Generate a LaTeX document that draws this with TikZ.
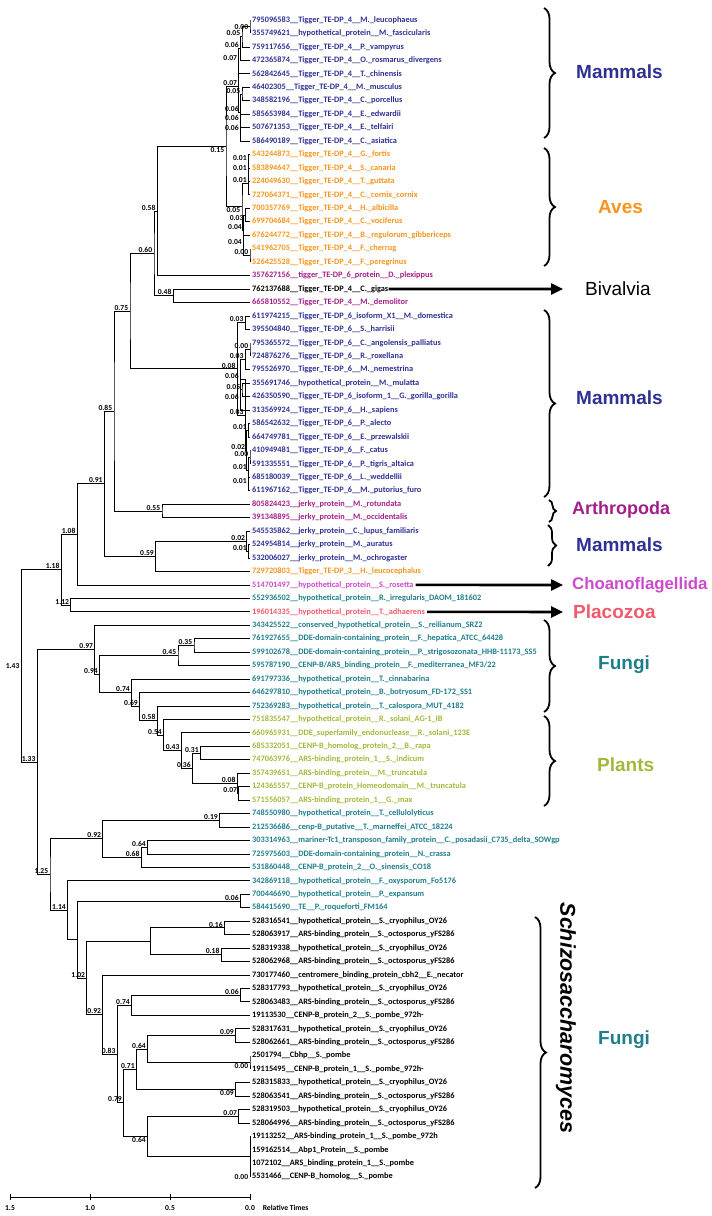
\documentclass[tikz,border=0pt]{standalone}
\usepackage{fontspec}
\setmainfont{Carlito}
\newfontfamily\grpfont{Liberation Sans}
\usetikzlibrary{calc, arrows.meta, decorations.pathreplacing}

\definecolor{mamblue}{HTML}{2E3192}
\definecolor{avesorange}{HTML}{F7941D}
\definecolor{arthpurple}{HTML}{A21F8A}
\definecolor{choanopink}{HTML}{CC4ACB}
\definecolor{placored}{HTML}{F05A6B}
\definecolor{fungiteal}{HTML}{1F7E8C}
\definecolor{plantgreen}{HTML}{A2B83C}

\catcode`\_=12

% leaves: first index, colour, list of labels
\newcommand\leaves[3]{%
  \foreach \txt [count=\i from #1] in {#3} {%
    \coordinate (l\i) at (250,{20+13.45*(\i-1)});
    \node[leaf, text=#2] (t\i) at ([xshift=2pt]l\i) {\txt};}}

% clade: [label anchor]{name}{age}{child a}{child b}
\newcommand\clade[5][south east]{%
  \path let \p1=($(#4)!.5!(#5)$) in coordinate (#2) at ({250pt-160pt*#3},\y1);
  \draw[branch] (#4) -| (#2) |- (#5);
  \node[age, anchor=#1] at ([xshift=-1pt]#2) {#3};}

% join without a printed age
\newcommand\knot[4]{%
  \path let \p1=($(#3)!.5!(#4)$) in coordinate (#1) at ({250pt-160pt*#2},\y1);
  \draw[branch] (#3) -| (#1) |- (#4);}

\begin{document}
\begin{tikzpicture}[x=1pt, y=-1pt,
    leaf/.style={anchor=west, inner sep=0pt, font=\fontsize{8.3}{9}\selectfont\bfseries},
    age/.style={inner sep=0.6pt, font=\fontsize{7.6}{8}\selectfont\bfseries},
    branch/.style={line width=0.8pt},
    group/.style={anchor=west, inner sep=0pt, font=\grpfont\bfseries\fontsize{19}{22}\selectfont},
    brace/.style={decorate, decoration={brace, amplitude=11pt}, line width=1.8pt},
    pointer/.style={line width=2.6pt, -{Triangle[length=12pt, width=11pt]}}
  ]
\useasboundingbox (0,0) rectangle (712,1216);

% leaf labels
\leaves{1}{mamblue}{795096583__Tigger_TE-DP_4__M._leucophaeus,
  355749621__hypothetical_protein__M._fascicularis,
  759117656__Tigger_TE-DP_4__P._vampyrus,
  472365874__Tigger_TE-DP_4__O._rosmarus_divergens,
  562842645__Tigger_TE-DP_4__T._chinensis,
  46402305__Tigger_TE-DP_4__M._musculus,
  348582196__Tigger_TE-DP_4__C._porcellus,
  585653984__Tigger_TE-DP_4__E._edwardii,
  507671353__Tigger_TE-DP_4__E._telfairi,
  586490189__Tigger_TE-DP_4__C._asiatica}
\leaves{11}{avesorange}{543244873__Tigger_TE-DP_4__G._fortis,
  583894647__Tigger_TE-DP_4__S._canaria,
  224049630__Tigger_TE-DP_4__T._guttata,
  727064371__Tigger_TE-DP_4__C._cornix_cornix,
  700357769__Tigger_TE-DP_4__H._albicilla,
  699704684__Tigger_TE-DP_4__C._vociferus,
  676244772__Tigger_TE-DP_4__B._regulorum_gibbericeps,
  541962705__Tigger_TE-DP_4__F._cherrug,
  526425528__Tigger_TE-DP_4__F._peregrinus}
\leaves{20}{arthpurple}{357627156__tigger_TE-DP_6_protein__D._plexippus}
\leaves{21}{black}{762137688__Tigger_TE-DP_4__C._gigas}
\leaves{22}{arthpurple}{665810552__Tigger_TE-DP_4__M._demolitor}
\leaves{23}{mamblue}{611974215__Tigger_TE-DP_6_isoform_X1__M._domestica,
  395504840__Tigger_TE-DP_6__S._harrisii,
  795365572__Tigger_TE-DP_6__C._angolensis_palliatus,
  724876276__Tigger_TE-DP_6__R._roxellana,
  795526970__Tigger_TE-DP_6__M._nemestrina,
  355691746__hypothetical_protein__M._mulatta,
  426350590__Tigger_TE-DP_6_isoform_1__G._gorilla_gorilla,
  313569924__Tigger_TE-DP_6__H._sapiens,
  586542632__Tigger_TE-DP_6__P._alecto,
  664749781__Tigger_TE-DP_6__E._przewalskii,
  410949481__Tigger_TE-DP_6__F._catus,
  591335551__Tigger_TE-DP_6__P._tigris_altaica,
  685180039__Tigger_TE-DP_6__L._weddellii,
  611967162__Tigger_TE-DP_6__M._putorius_furo}
\leaves{37}{arthpurple}{805824423__jerky_protein__M._rotundata,
  391348895__jerky_protein__M._occidentalis}
\leaves{39}{mamblue}{545535862__jerky_protein__C._lupus_familiaris,
  524954814__jerky_protein__M._auratus,
  532006027__jerky_protein__M._ochrogaster}
\leaves{42}{avesorange}{729720803__Tigger_TE-DP_3__H._leucocephalus}
\leaves{43}{choanopink}{514701497__hypothetical_protein__S._rosetta}
\leaves{44}{fungiteal}{552936502__hypothetical_protein__R._irregularis_DAOM_181602}
\leaves{45}{placored}{196014335__hypothetical_protein__T._adhaerens}
\leaves{46}{fungiteal}{343425522__conserved_hypothetical_protein__S._reilianum_SRZ2,
  761927655__DDE-domain-containing_protein__F._hepatica_ATCC_64428,
  599102678__DDE-domain-containing_protein__P._strigosozonata_HHB-11173_SS5,
  595787190__CENP-B/ARS_binding_protein__F._mediterranea_MF3/22,
  691797336__hypothetical_protein__T._cinnabarina,
  646297810__hypothetical_protein__B._botryosum_FD-172_SS1,
  752369283__hypothetical_protein__T._calospora_MUT_4182}
\leaves{53}{plantgreen}{751835547__hypothetical_protein__R._solani_AG-1_IB,
  660965931__DDE_superfamily_endonuclease__R._solani_123E,
  685332051__CENP-B_homolog_protein_2__B._rapa,
  747063976__ARS-binding_protein_1__S._indicum,
  357439651__ARS-binding_protein__M._truncatula,
  124365557__CENP-B_protein_Homeodomain__M._truncatula,
  571556057__ARS-binding_protein_1__G._max}
\leaves{60}{fungiteal}{748550980__hypothetical_protein__T._cellulolyticus,
  212536686__cenp-B_putative__T._marneffei_ATCC_18224,
  303314963__mariner-Tc1_transposon_family_protein__C._posadasii_C735_delta_SOWgp,
  725975603__DDE-domain-containing_protein__N._crassa,
  531860448__CENP-B_protein_2__O._sinensis_CO18,
  342869118__hypothetical_protein__F._oxysporum_Fo5176,
  700446690__hypothetical_protein__P._expansum,
  584415690__TE__P._roqueforti_FM164}
\leaves{68}{black}{528316541__hypothetical_protein__S._cryophilus_OY26,
  528063917__ARS-binding_protein__S._octosporus_yFS286,
  528319338__hypothetical_protein__S._cryophilus_OY26,
  528062968__ARS-binding_protein__S._octosporus_yFS286,
  730177460__centromere_binding_protein_cbh2__E._necator,
  528317793__hypothetical_protein__S._cryophilus_OY26,
  528063483__ARS-binding_protein__S._octosporus_yFS286,
  19113530__CENP-B_protein_2__S._pombe_972h-,
  528317631__hypothetical_protein__S._cryophilus_OY26,
  528062661__ARS-binding_protein__S._octosporus_yFS286,
  2501794__Cbhp__S._pombe,
  19115495__CENP-B_protein_1__S._pombe_972h-,
  528315833__hypothetical_protein__S._cryophilus_OY26,
  528063541__ARS-binding_protein__S._octosporus_yFS286,
  528319503__hypothetical_protein__S._cryophilus_OY26,
  528064996__ARS-binding_protein__S._octosporus_yFS286,
  19113252__ARS-binding_protein_1__S._pombe_972h,
  159162514__Abp1_Protein__S._pombe,
  1072102__ARS_binding_protein_1__S._pombe,
  5531466__CENP-B_homolog__S._pombe}

% Tigger TE-DP4 mammals and birds
\clade[east]{mA}{0.00}{l1}{l2}
\clade{mB}{0.05}{mA}{l3}
\clade{mC}{0.06}{mB}{l4}
\clade{mD}{0.07}{mC}{l5}
\clade{mE}{0.05}{l6}{l7}
\clade{mF}{0.06}{l8}{l9}
\clade{mG}{0.06}{mF}{l10}
\clade{mH}{0.06}{mE}{mG}
\clade{mI}{0.07}{mD}{mH}
\clade{vA}{0.01}{l11}{l12}
\clade{vB}{0.01}{vA}{l13}
\clade{vC}{0.01}{vB}{l14}
\clade[north east]{vD}{0.03}{l15}{l16}
\clade{vE}{0.00}{l18}{l19}
\clade{vF}{0.04}{l17}{vE}
\clade{vG}{0.04}{vD}{vF}
\clade[north east]{vH}{0.05}{vC}{vG}
\clade[north east]{tig}{0.15}{mI}{vH}
\clade{n058}{0.58}{tig}{l20}
\clade{n048}{0.48}{l21}{l22}
\clade{n060}{0.60}{n058}{n048}

% Tigger TE-DP6 mammals
\clade{dA}{0.03}{l23}{l24}
\clade{pA}{0.00}{l25}{l26}
\clade{pB}{0.03}{pA}{l27}
\clade{pC}{0.05}{l28}{l29}
\clade{pD}{0.06}{pC}{l30}
\clade{pE}{0.06}{pB}{pD}
\clade{qA}{0.01}{l31}{l32}
\clade{qB}{0.00}{l33}{l34}
\clade{qC}{0.01}{l35}{l36}
\clade{qD}{0.01}{qB}{qC}
\clade{qE}{0.02}{qA}{qD}
\clade{plac}{0.03}{pE}{qE}
\clade{dp6}{0.08}{dA}{plac}
\clade{n075}{0.75}{n060}{dp6}

% jerky and the other animals
\clade{jA}{0.55}{l37}{l38}
\clade{jB}{0.01}{l40}{l41}
\clade{jC}{0.02}{l39}{jB}
\clade{n059}{0.59}{jC}{l42}
\clade{n085}{0.85}{n075}{jA}
\clade{n091}{0.91}{n085}{n059}
\clade{n108}{1.08}{n091}{l43}
\clade{n112}{1.12}{l44}{l45}
\clade{n118}{1.18}{n108}{n112}

% fungi and plants
\clade{fA}{0.35}{l47}{l48}
\clade{fB}{0.45}{fA}{l49}
\clade{gA}{0.31}{l55}{l56}
\clade{gB}{0.07}{l58}{l59}
\clade{gC}{0.08}{l57}{gB}
\clade{gD}{0.36}{gA}{gC}
\clade{gE}{0.43}{l54}{gD}
\clade{gF}{0.54}{l53}{gE}
\clade{gG}{0.58}{l52}{gF}
\clade{gH}{0.69}{l51}{gG}
\clade{gI}{0.74}{l50}{gH}
\clade{n094}{0.94}{fB}{gI}
\clade{n097}{0.97}{l46}{n094}

% lower fungi and Schizosaccharomyces
\clade{sA}{0.19}{l60}{l61}
\clade{sB}{0.64}{l62}{l63}
\clade{sC}{0.68}{sB}{l64}
\clade{sD}{0.92}{sA}{sC}
\clade{sE}{0.06}{l66}{l67}
\clade{sF}{0.16}{l68}{l69}
\clade{sG}{0.18}{l70}{l71}
\knot{sH}{0.62}{sF}{sG}
\clade{sI}{0.06}{l73}{l74}
\clade{sJ}{0.74}{sI}{l75}
\clade{sK}{0.09}{l76}{l77}
\clade[north east]{sL}{0.00}{l78}{l79}
\clade{sM}{0.64}{sK}{sL}
\clade[north east]{sN}{0.09}{l80}{l81}
\clade{sO}{0.71}{sM}{sN}
\clade{sP}{0.07}{l82}{l83}
\coordinate (sQ) at ($(l85)!.5!(l86)$);
\draw[branch] (l84) -- (l87);
\node[age, anchor=east] at ([xshift=-1pt]l87) {0.00};
\clade[north east]{sR}{0.64}{sP}{sQ}
\clade{sS}{0.79}{sO}{sR}
\clade{sT}{0.83}{sJ}{sS}
\clade{sU}{0.92}{l72}{sT}
\clade{sV}{1.02}{sH}{sU}
\knot{sW}{1.08}{sE}{sV}
\clade{sX}{1.14}{l65}{sW}
\clade{sY}{1.25}{sD}{sX}
\clade{sZ}{1.33}{n097}{sY}
\clade[east]{root}{1.43}{n118}{sZ}

% time axis
\coordinate (ax0) at (10,1197);
\coordinate (ax1) at (250,1197);
\draw[branch] (ax0) -- (ax1);
\foreach \v/\x in {1.5/10, 1.0/90, 0.5/170, 0.0/250} {
  \draw[branch] (\x,1194) -- (\x,1200);
  \node[age] at (\x,1208) {\v};}
\node[age, anchor=west] (reltime) at (262,1208) {Relative Times};

% group labels
\node[group, text=mamblue] (mam1) at (576,72) {Mammals};
\node[group, text=avesorange] (aves) at (598,207) {Aves};
\node[group, font=\grpfont\fontsize{19}{22}\selectfont] (biv) at (585,289) {Bivalvia};
\node[group, text=mamblue] (mam2) at (576,398) {Mammals};
\node[group, text=arthpurple, font=\grpfont\bfseries\fontsize{18}{22}\selectfont] (arth) at (572,510) {Arthropoda};
\node[group, text=mamblue] (mam3) at (576,545) {Mammals};
\node[group, text=choanopink, font=\grpfont\bfseries\fontsize{16.8}{22}\selectfont] (choano) at (572,585) {Choanoflagellida};
\node[group, text=placored] (placo) at (573,612) {Placozoa};
\node[group, text=fungiteal] (fung1) at (598,665) {Fungi};
\node[group, text=plantgreen] (plants) at (597,765) {Plants};
\node[group, text=fungiteal] (fung2) at (598,1040) {Fungi};
\node[group, anchor=center, rotate=-90, font=\grpfont\bfseries\itshape\fontsize{21.5}{24}\selectfont] (schizo) at (566,1018) {Schizosaccharomyces};

% braces
\draw[brace] (544,8) -- (544,138);
\draw[brace] (544,148) -- (544,266);
\draw[brace] (544,310) -- (544,497);
\draw[brace, decoration={brace, amplitude=7pt}] (549,500) -- (549,522);
\draw[brace, decoration={brace, amplitude=8pt}] (548,525) -- (548,566);
\draw[brace] (544,620) -- (544,712);
\draw[brace] (544,716) -- (544,806);
\draw[brace] (535,917) -- (535,1188);

% pointers
\draw[pointer, shorten >=22pt] (t21.east) -- (biv.west);
\draw[pointer, shorten >=9pt] ([xshift=2pt]t43.east) -- (choano.west);
\draw[pointer, shorten >=10pt] ([xshift=2pt]t45.east) -- (placo.west);
\end{tikzpicture}
\end{document}
